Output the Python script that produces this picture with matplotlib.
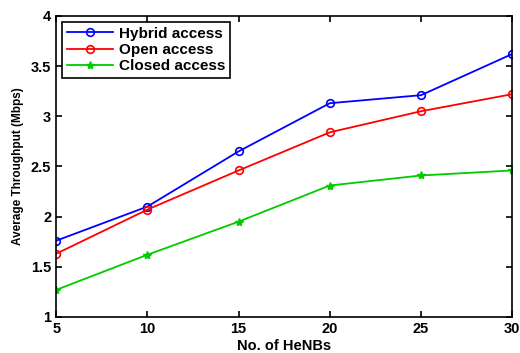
import matplotlib.pyplot as plt

henbs = [5, 10, 15, 20, 25, 30]
hybrid = [1.76, 2.10, 2.65, 3.13, 3.21, 3.62]
open_acc = [1.63, 2.07, 2.46, 2.84, 3.05, 3.22]
closed = [1.27, 1.62, 1.95, 2.31, 2.41, 2.46]

plt.rcParams['font.family'] = ['Liberation Sans', 'DejaVu Sans']
plt.rcParams['font.weight'] = 'bold'

fig = plt.figure(figsize=(5.2, 3.53), dpi=100)
ax = fig.add_axes([0.108, 0.102, 0.877, 0.853])

ax.plot(henbs, hybrid, '-o', color='#0000ff', lw=1.3, ms=5.5, mfc='none', mew=1.2, label='Hybrid access')
ax.plot(henbs, open_acc, '-o', color='#ff0000', lw=1.3, ms=5.5, mfc='none', mew=1.2, label='Open access')
ax.plot(henbs, closed, '-*', color='#00cc00', lw=1.3, ms=6, label='Closed access')

ax.set_xlim(5, 30)
ax.set_ylim(1, 4)
ax.set_xticks(henbs)
ax.set_yticks([1, 1.5, 2, 2.5, 3, 3.5, 4])
ax.set_yticklabels(['1', '1.5', '2', '2.5', '3', '3.5', '4'])
ax.tick_params(direction='in', top=True, right=True, labelsize=10.5, width=1.2, length=4)
for s in ax.spines.values():
    s.set_linewidth(1.2)

ax.set_xlabel('No. of HeNBs', fontsize=10.5, fontweight='bold', labelpad=2)
ax.set_ylabel('Average Throughput (Mbps)', fontsize=8.5, fontweight='bold', labelpad=5)

leg = ax.legend(loc='upper left', fontsize=11, fancybox=False, framealpha=1,
                edgecolor='black', borderaxespad=0.4, handlelength=3.0,
                labelspacing=0.15, borderpad=0.3, handletextpad=0.4)
leg.get_frame().set_linewidth(1.2)

plt.savefig('out.png')
